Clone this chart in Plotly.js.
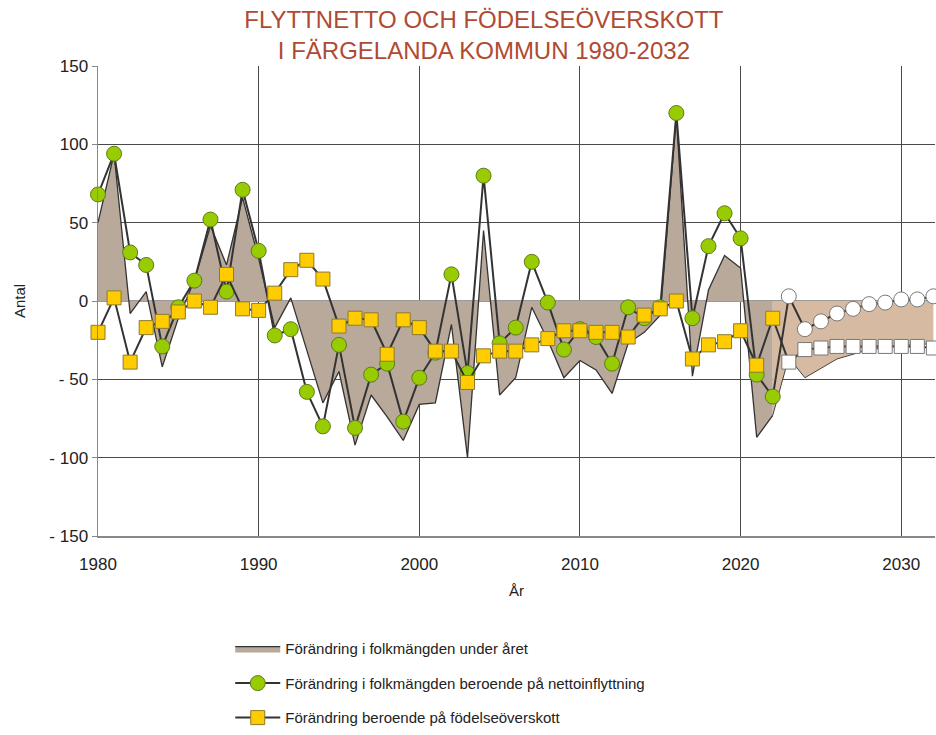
<!DOCTYPE html>
<html>
<head>
<meta charset="utf-8">
<script src="https://cdn.plot.ly/plotly-3.0.1.min.js"></script>
<style>html,body{margin:0;padding:0;background:#fff}#chart{width:936px;height:735px}</style>
</head>
<body>
<div id="chart"></div>
<script>
// Historical years and values
const yearsHist = [1980,1981,1982,1983,1984,1985,1986,1987,1988,1989,1990,1991,1992,1993,1994,1995,1996,1997,1998,1999,2000,2001,2002,2003,2004,2005,2006,2007,2008,2009,2010,2011,2012,2013,2014,2015,2016,2017,2018,2019,2020,2021,2022];
const totalHist = [50,94,-8,6,-42,-11,13,48,23,66,27,-17,2,-32,-65,-45,-92,-60,-74,-89,-66,-65,-15,-100,45,-60,-49,-4,-25,-49,-38,-44,-59,-27,-20,-9,118,-48,7,29,21,-87,-73];
const nettoHist = [68,94,31,23,-29,-4,13,52,6,71,32,-22,-18,-58,-80,-28,-81,-47,-40,-77,-49,-33,17,-46,80,-27,-17,25,-1,-31,-18,-23,-40,-4,-11,-4,120,-11,35,56,40,-47,-61];
const fodelseHist = [-20,2,-39,-17,-13,-7,0,-4,17,-5,-6,5,20,26,14,-16,-11,-12,-34,-12,-17,-32,-32,-52,-35,-32,-32,-28,-24,-19,-19,-20,-20,-23,-9,-5,0,-37,-28,-26,-19,-41,-11];

// Projection years and values
const yearsProj = [2023,2024,2025,2026,2027,2028,2029,2030,2031,2032];
const nettoProj = [3,-18,-13,-8,-5,-2,-1,1,1,3];
const fodelseProj = [-39,-31,-30,-29,-29,-29,-29,-29,-29,-30];
const totalProjYears = [2022,2023,2024,2025,2026,2027,2028,2029,2030,2031,2032];
const totalProj = [-73,-36,-49,-43,-37,-34,-31,-30,-28,-28,-27];

// Axis ticks
const yTickVals = [150,100,50,0,-50,-100,-150];
const yTickText = ['150','100','50','0','- 50','- 100','- 150'];
const xTickVals = [1980,1990,2000,2010,2020,2030];

const legendLabels = [
  'Förändring i folkmängden under året',
  'Förändring i folkmängden beroende på nettoinflyttning',
  'Förändring beroende på födelseöverskott'
];

const allYears = yearsHist.concat(yearsProj);
const netto = nettoHist.concat(nettoProj);
const fodelse = fodelseHist.concat(fodelseProj);
const nHist = yearsHist.length;

const greenColors = allYears.map((y,i)=> i<nHist ? '#99CC00' : '#FFFFFF');
const greenLines = allYears.map((y,i)=> i<nHist ? '#5E7A1E' : '#777777');
const yellowColors = allYears.map((y,i)=> i<nHist ? '#FFCC00' : '#FFFFFF');
const yellowLines = allYears.map((y,i)=> i<nHist ? '#8C7A30' : '#777777');

const traces = [
  {
    x: yearsHist, y: totalHist, type: 'scatter', mode: 'lines',
    fill: 'tozeroy', fillcolor: '#B8A99B',
    line: {color: '#333333', width: 1.3},
    name: legendLabels[0], legendgroup: 'a', hoverinfo: 'x+y'
  },
  {
    x: totalProjYears, y: totalProj, type: 'scatter', mode: 'lines',
    fill: 'tozeroy', fillcolor: '#D6BBA2',
    line: {color: '#444444', width: 1},
    showlegend: false, legendgroup: 'a2'
  },
  {
    x: allYears, y: netto, type: 'scatter', mode: 'lines+markers',
    line: {color: '#333333', width: 2},
    marker: {symbol: 'circle', size: 15, color: greenColors, line: {color: greenLines, width: 1}},
    name: legendLabels[1], legendgroup: 'b', cliponaxis: false
  },
  {
    x: allYears, y: fodelse, type: 'scatter', mode: 'lines+markers',
    line: {color: '#333333', width: 2},
    marker: {symbol: 'square', size: 14, color: yellowColors, line: {color: yellowLines, width: 1}},
    name: legendLabels[2], legendgroup: 'c', cliponaxis: false
  }
];

const layout = {
  width: 936, height: 735,
  margin: {l: 98, r: 1, t: 66, b: 199},
  paper_bgcolor: '#FFFFFF', plot_bgcolor: '#FFFFFF',
  font: {family: 'Liberation Sans, Arial, sans-serif', color: '#222', size: 15},
  title: {
    text: 'FLYTTNETTO OCH FÖDELSEÖVERSKOTT<br>I FÄRGELANDA KOMMUN 1980-2032',
    font: {family: 'Liberation Sans Narrow, Arial Narrow, Liberation Sans, sans-serif', size: 24, color: '#B04A32'},
    x: 0.517, xanchor: 'center', y: 0.962, yanchor: 'top'
  },
  xaxis: {
    range: [1980, 2032.1], tickvals: xTickVals, ticks: '',
    showgrid: true, gridcolor: '#4A4A4A', gridwidth: 1,
    showline: true, linecolor: '#888888', linewidth: 1.5,
    zeroline: false, tickfont: {size: 17, color: '#222'},
    ticklabelstandoff: 12,
    title: {text: 'År', font: {size: 15}, standoff: 12}
  },
  yaxis: {
    range: [-150, 150], tickvals: yTickVals, ticktext: yTickText,
    ticks: 'outside', ticklen: 5, tickcolor: '#888888',
    showgrid: true, gridcolor: '#4A4A4A', gridwidth: 1,
    showline: true, linecolor: '#888888', linewidth: 1.5,
    zeroline: true, zerolinecolor: '#999999', zerolinewidth: 1.5,
    tickfont: {size: 17, color: '#222'},
    title: {text: 'Antal', font: {size: 15}, standoff: 20}
  },
  showlegend: true,
  legend: {
    x: 0.158, xanchor: 'left', y: -0.205, yanchor: 'top',
    traceorder: 'grouped', tracegroupgap: 12, itemwidth: 45,
    font: {size: 15, color: '#222'}, bgcolor: 'rgba(0,0,0,0)'
  }
};

Plotly.newPlot('chart', traces, layout, {displayModeBar: false, staticPlot: true});
</script>
</body>
</html>
